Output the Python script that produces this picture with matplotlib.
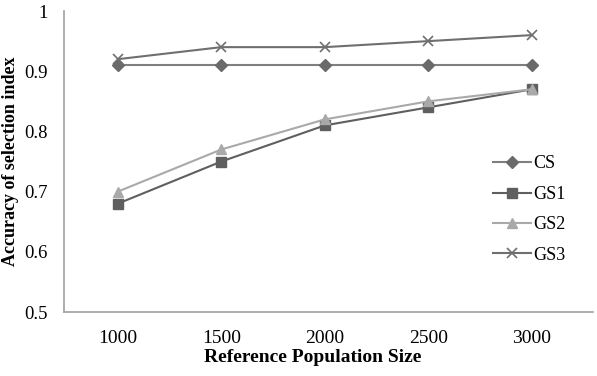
import matplotlib
matplotlib.use("Agg")
import matplotlib.pyplot as plt

categories = ["1000", "1500", "2000", "2500", "3000"]
cs = [0.91, 0.91, 0.91, 0.91, 0.91]
gs1 = [0.68, 0.75, 0.81, 0.84, 0.87]
gs2 = [0.70, 0.77, 0.82, 0.85, 0.87]
gs3 = [0.92, 0.94, 0.94, 0.95, 0.96]
yticks = [0.5, 0.6, 0.7, 0.8, 0.9, 1.0]
ytick_labels = ["0.5", "0.6", "0.7", "0.8", "0.9", "1"]

plt.rcParams['font.family'] = ['Liberation Serif', 'DejaVu Serif']

fig = plt.figure(figsize=(5.97, 3.76), dpi=100)
ax = fig.add_axes([0.1072, 0.1702, 0.8861, 0.8005])

x = list(range(1, len(categories) + 1))
ax.plot(x, cs, color="#7f7f7f", lw=1.5, marker="D", ms=6.5, mfc="#6a6a6a", mec="#6a6a6a", label="CS")
ax.plot(x, gs1, color="#5f5f5f", lw=1.5, marker="s", ms=7.5, mfc="#5f5f5f", mec="#5f5f5f", label="GS1")
ax.plot(x, gs2, color="#a9a9a9", lw=1.5, marker="^", ms=7.5, mfc="#a9a9a9", mec="#a9a9a9", label="GS2")
ax.plot(x, gs3, color="#6f6f6f", lw=1.5, marker="x", ms=7.5, mew=1.2, mfc="#6f6f6f", mec="#6f6f6f", label="GS3")

ax.set_xlim(0.48, 5.59)
ax.set_ylim(0.5, 1.0)
ax.set_xticks(x)
ax.set_xticklabels(categories, fontsize=14)
ax.set_yticks(yticks)
ax.set_yticklabels(ytick_labels, fontsize=13.5)
ax.tick_params(axis='x', length=0, pad=13)
ax.tick_params(axis='y', length=0, pad=12)

for s in ["top", "right"]:
    ax.spines[s].set_visible(False)
for s in ["left", "bottom"]:
    ax.spines[s].set_color("#a0a0a0")
    ax.spines[s].set_linewidth(1.2)

ax.set_xlabel("Reference Population Size", fontsize=14, fontweight="bold")
ax.xaxis.set_label_coords(0.471, -0.123)
ax.set_ylabel("Accuracy of selection index", fontsize=13, fontweight="bold")
ax.yaxis.set_label_coords(-0.085, 0.5)

ax.legend(loc="upper left", bbox_to_anchor=(0.794, 0.55), frameon=False, fontsize=13,
          borderpad=0, handlelength=2.1, labelspacing=0.74, handletextpad=0.1)

fig.savefig("out.png", dpi=100)
